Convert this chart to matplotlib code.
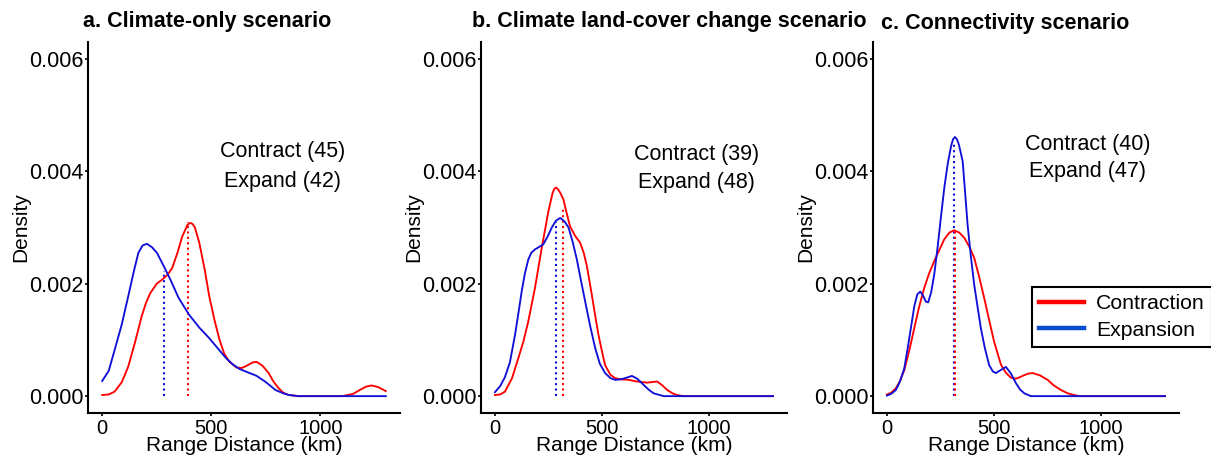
import matplotlib
matplotlib.use("Agg")
import matplotlib.pyplot as plt
from matplotlib.lines import Line2D

plt.rcParams['font.family'] = ['Liberation Sans', 'DejaVu Sans']

# ---------------- data ----------------
titles = ["a. Climate-only scenario",
          "b. Climate land-cover change scenario",
          "c. Connectivity scenario"]
contract_counts = [45, 39, 40]
expand_counts = [42, 48, 47]

# Panel a
a_con_x = [0, 30, 57, 90, 119, 150, 181, 200, 220, 250, 274, 300, 321, 345, 367, 390, 398, 406, 415, 425,
           445, 470, 491, 515, 538, 560, 584, 615, 640, 662, 690, 708, 735, 763, 785, 809, 830, 856, 900,
           1100, 1150, 1181, 1210, 1235, 1265, 1300]
a_con_y = [0.00002, 0.00003, 0.00008, 0.00025, 0.00052, 0.00095, 0.00142, 0.00165, 0.00183, 0.00200,
           0.00207, 0.00216, 0.00228, 0.00255, 0.00284, 0.00304, 0.00307, 0.00308, 0.00306, 0.00300,
           0.00273, 0.00225, 0.00177, 0.00135, 0.00100, 0.00075, 0.00061, 0.00051, 0.00050, 0.00054,
           0.00060, 0.00061, 0.00054, 0.00041, 0.00026, 0.00014, 0.00006, 0.00002, 0.0,
           0.0, 0.00004, 0.00011, 0.00017, 0.00019, 0.00016, 0.00009]
a_exp_x = [0, 30, 57, 90, 119, 145, 166, 185, 205, 228, 251, 280, 313, 350, 398, 445, 491, 530, 569, 600,
           631, 670, 708, 750, 794, 830, 856, 900, 1300]
a_exp_y = [0.00027, 0.00045, 0.00082, 0.00128, 0.00177, 0.00222, 0.00255, 0.00268, 0.00271, 0.00265,
           0.00255, 0.00233, 0.00207, 0.00175, 0.00145, 0.00122, 0.00103, 0.00085, 0.00067, 0.00056,
           0.00048, 0.00042, 0.00036, 0.00025, 0.00011, 0.00005, 0.00002, 0.0, 0.0]

# Panel b
b_con_x = [0, 25, 47, 80, 109, 133, 156, 187, 203, 219, 250, 270, 278, 286, 295, 305, 320, 335, 351, 375,
           398, 415, 430, 453, 470, 484, 500, 515, 540, 562, 586, 625, 664, 711, 735, 758, 780, 805, 830,
           851, 880, 1300]
b_con_y = [0.00002, 0.00003, 0.00008, 0.00032, 0.00067, 0.00097, 0.00133, 0.00192, 0.00228, 0.00264,
           0.00329, 0.00362, 0.00369, 0.00371, 0.00368, 0.00362, 0.00350, 0.00326, 0.00302, 0.00285,
           0.00273, 0.00255, 0.00231, 0.00180, 0.00140, 0.00109, 0.00080, 0.00055, 0.00038, 0.00032,
           0.00030, 0.00029, 0.00026, 0.00024, 0.00025, 0.00026, 0.00020, 0.00011, 0.00005,
           0.00002, 0.0, 0.0]
b_exp_x = [0, 25, 47, 70, 94, 110, 125, 140, 156, 170, 187, 205, 226, 245, 266, 285, 305, 325, 344, 363,
           383, 402, 422, 445, 469, 490, 515, 540, 562, 590, 625, 640, 665, 695, 720, 742, 789, 1300]
b_exp_y = [0.00007, 0.00018, 0.00034, 0.00060, 0.00109, 0.00148, 0.00186, 0.00218, 0.00243, 0.00255,
           0.00261, 0.00265, 0.00270, 0.00283, 0.00300, 0.00312, 0.00317, 0.00311, 0.00300, 0.00275,
           0.00243, 0.00206, 0.00168, 0.00125, 0.00085, 0.00058, 0.00041, 0.00032, 0.00029, 0.00030,
           0.00034, 0.00036, 0.00031, 0.00020, 0.00011, 0.00005, 0.0, 0.0]

# Panel c
c_con_x = [0, 20, 42, 60, 81, 105, 128, 150, 174, 197, 221, 245, 268, 292, 315, 338, 361, 385, 408, 430,
           455, 478, 501, 518, 533, 555, 579, 600, 611, 640, 660, 681, 715, 751, 780, 813, 845, 875, 900, 1300]
c_con_y = [0.00003, 0.00006, 0.00014, 0.00026, 0.00046, 0.00082, 0.00121, 0.00158, 0.00192, 0.00218,
           0.00240, 0.00260, 0.00279, 0.00291, 0.00295, 0.00291, 0.00282, 0.00266, 0.00246, 0.00214,
           0.00174, 0.00135, 0.00097, 0.00075, 0.00056, 0.00042, 0.00033, 0.00031, 0.00032, 0.00037,
           0.00040, 0.00041, 0.00037, 0.00029, 0.00019, 0.00011, 0.00005, 0.00002, 0.0, 0.0]
c_exp_x = [0, 20, 42, 60, 81, 97, 112, 128, 142, 156, 170, 182, 193, 207, 221, 237, 252, 268, 284, 300,
           309, 318, 327, 336, 354, 366, 377, 392, 408, 424, 439, 458, 478, 495, 509, 530, 556, 580, 603,
           622, 642, 673, 1300]
c_exp_y = [0.00001, 0.00004, 0.00011, 0.00025, 0.00049, 0.00085, 0.00121, 0.00160, 0.00181, 0.00186,
           0.00178, 0.00168, 0.00167, 0.00185, 0.00216, 0.00265, 0.00317, 0.00370, 0.00413, 0.00445,
           0.00457, 0.00461, 0.00457, 0.00448, 0.00418, 0.00360, 0.00305, 0.00250, 0.00198, 0.00158,
           0.00121, 0.00085, 0.00055, 0.00044, 0.00041, 0.00046, 0.00052, 0.00040, 0.00023,
           0.00012, 0.00005, 0.0, 0.0]

# medians (dotted lines): position and curve height
con_median = [395, 320, 319]
con_median_h = [0.00309, 0.00335, 0.00295]
exp_median = [284, 284, 312]
exp_median_h = [0.00222, 0.00309, 0.00449]

# annotation positions (km, density) per panel
ann_x = [825, 943, 939]
ann_y1 = [0.00436, 0.00430, 0.00448]
ann_y2 = [0.00382, 0.00380, 0.00400]

x_ticks = [0, 500, 1000]
y_ticks = [0.000, 0.002, 0.004, 0.006]
y_tick_labels = ["0.000", "0.002", "0.004", "0.006"]
legend_labels = ["Contraction", "Expansion"]

con_x = [a_con_x, b_con_x, c_con_x]
con_y = [a_con_y, b_con_y, c_con_y]
exp_x = [a_exp_x, b_exp_x, c_exp_x]
exp_y = [a_exp_y, b_exp_y, c_exp_y]

# ---------------- styling ----------------
RED = "#FF0000"
BLUE = "#1010D8"
W, H = 1211, 457
fig = plt.figure(figsize=(W / 100, H / 100), dpi=100)

panel_px = [(88, 400), (481, 787), (873, 1179)]
top_px, bot_px = 42, 413
title_px = [(83, 21), (472, 21), (881, 24)]

for i in range(3):
    l, r = panel_px[i]
    ax = fig.add_axes([l / W, 1 - bot_px / H, (r - l) / W, (bot_px - top_px) / H])
    ax.plot(con_x[i], con_y[i], color=RED, lw=1.35, solid_joinstyle='round', zorder=3)
    ax.plot(exp_x[i], exp_y[i], color=BLUE, lw=1.35, solid_joinstyle='round', zorder=4)
    ax.vlines(exp_median[i], 0, exp_median_h[i], colors=BLUE, linestyles=(0, (1, 1.6)), lw=1.5, zorder=2)
    ax.vlines(con_median[i], 0, con_median_h[i], colors=RED, linestyles=(0, (1, 1.6)), lw=1.5, zorder=2)

    ax.set_xlim(-65, 1365)
    ax.set_ylim(-0.0003, 0.0063)
    ax.set_xticks(x_ticks)
    ax.set_xticklabels([str(t) for t in x_ticks])
    ax.set_yticks(y_ticks)
    ax.set_yticklabels(y_tick_labels)
    for s in ['top', 'right']:
        ax.spines[s].set_visible(False)
    for s in ['left', 'bottom']:
        ax.spines[s].set_linewidth(1.5)
        ax.spines[s].set_color('black')
    ax.tick_params(axis='y', labelsize=15.5, length=2.5, width=1.2, pad=0.5, colors='black')
    ax.tick_params(axis='x', labelsize=14.5, length=2.5, width=1.2, pad=1.5, colors='black')
    ax.set_xlabel("Range Distance (km)", fontsize=15, labelpad=-1)
    ax.set_ylabel("Density", fontsize=15)
    ax.yaxis.set_label_coords(-58 / (r - l), 0.5)

    ax.text(ann_x[i], ann_y1[i], f"Contract ({contract_counts[i]})", fontsize=15.5,
            ha='center', va='center')
    ax.text(ann_x[i], ann_y2[i], f"Expand ({expand_counts[i]})", fontsize=15.5,
            ha='center', va='center')

    tx, ty = title_px[i]
    fig.text(tx / W, 1 - ty / H, titles[i], fontsize=15.5, fontweight='bold',
             ha='left', va='center')

# legend in panel c
handles = [Line2D([0], [0], color=RED, lw=3.2), Line2D([0], [0], color="#0A4CD0", lw=3.2)]
leg = fig.legend(handles, legend_labels, loc='upper left',
                 bbox_to_anchor=(1032 / W, 1 - 287 / H), fontsize=15.3,
                 frameon=True, fancybox=False, framealpha=1, edgecolor='black',
                 handlelength=2.1, handletextpad=0.55, labelspacing=0.34, borderpad=0.35,
                 borderaxespad=0)
leg.get_frame().set_linewidth(1.5)

fig.savefig("out.png", dpi=100)
